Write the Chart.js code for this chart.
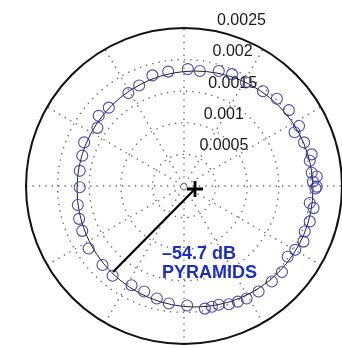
<!DOCTYPE html>
<html>
<head>
<meta charset="utf-8">
<script src="https://cdn.jsdelivr.net/npm/chart.js@4"></script>
<style>
    body { margin: 0; background: #fff; }
    #wrap { width: 342px; height: 348px; position: relative; }
</style>
</head>
<body>
<div id="wrap"><canvas id="polarChart"></canvas></div>
<script>
// measured response, real and imaginary parts
const RE = [0.00210, 0.00204, 0.00210, 0.00202, 0.00199, 0.00202, 0.00190, 0.00175, 0.00182, 0.00166,
    0.00147, 0.00125, 0.00098, 0.00076, 0.00055, 0.00025, 0.00006, -0.00025, -0.00050, -0.00071,
    -0.00088, -0.00119, -0.00135, -0.00137, -0.00158, -0.00161, -0.00165, -0.00165, -0.00168, -0.00166,
    -0.00161, -0.00151, -0.00129, -0.00113, -0.00083, -0.00063, -0.00043, -0.00024, 0.00005, 0.00033,
    0.00044, 0.00055, 0.00071, 0.00085, 0.00099, 0.00118, 0.00139, 0.00155, 0.00164, 0.00176,
    0.00189, 0.00191, 0.00199, 0.00205, 0.00199, 0.00208];
const IM = [-0.00001, 0.00007, 0.00015, 0.00021, 0.00040, 0.00050, 0.00069, 0.00085, 0.00095, 0.00120,
    0.00138, 0.00150, 0.00164, 0.00177, 0.00182, 0.00182, 0.00185, 0.00181, 0.00175, 0.00159,
    0.00147, 0.00124, 0.00111, 0.00092, 0.00069, 0.00048, 0.00024, -0.00002, -0.00030, -0.00052,
    -0.00071, -0.00099, -0.00125, -0.00142, -0.00157, -0.00167, -0.00178, -0.00186, -0.00189, -0.00194,
    -0.00191, -0.00188, -0.00187, -0.00183, -0.00178, -0.00167, -0.00151, -0.00136, -0.00112, -0.00101,
    -0.00088, -0.00072, -0.00056, -0.00035, -0.00027, -0.00004];

// fitted circle and radius arrow
const FIT_CENTER = [0.000174, -0.0000475];
const FIT_RADIUS = 0.001867;
const ARROW_END = [-0.001123, -0.001361];

// polar grid
const RING_TICKS = [0.0005, 0.001, 0.0015, 0.002, 0.0025];
const RING_LABELS = ['0.0005', '0.001', '0.0015', '0.002', '0.0025'];
const SPOKE_ANGLES = [0, 30, 60, 90, 120, 150];
const RMAX = 0.0025;

const LABEL_LINES = ['\u201354.7 dB', 'PYRAMIDS'];
const LABEL_POS = [-0.000348, -0.001155];

const BLUE = 'rgba(45, 45, 165, 0.85)';
const TEXT_BLUE = '#1c2ec4';

document.addEventListener('DOMContentLoaded', () => {
    renderChart();
});

const polarGrid = {
    id: 'polarGrid',
    beforeDatasetsDraw(chart) {
        const { ctx, scales: { x, y } } = chart;
        const ox = x.getPixelForValue(0);
        const oy = y.getPixelForValue(0);
        const pxPerUnit = x.getPixelForValue(1e-3) - ox;
        const r = v => v * pxPerUnit * 1000;

        ctx.save();
        // dotted rings + spokes
        ctx.strokeStyle = '#6f6f6f';
        ctx.lineWidth = 1.4;
        ctx.setLineDash([1.4, 5]);
        RING_TICKS.slice(0, -1).forEach(t => {
            ctx.beginPath();
            ctx.arc(ox, oy, r(t), 0, Math.PI * 2);
            ctx.stroke();
        });
        SPOKE_ANGLES.forEach(a => {
            const c = Math.cos(a * Math.PI / 180), s = Math.sin(a * Math.PI / 180);
            ctx.beginPath();
            ctx.moveTo(ox - r(RMAX) * c, oy + r(RMAX) * s);
            ctx.lineTo(ox + r(RMAX) * c, oy - r(RMAX) * s);
            ctx.stroke();
        });

        // outer circle
        ctx.setLineDash([]);
        ctx.strokeStyle = '#111';
        ctx.lineWidth = 2;
        ctx.beginPath();
        ctx.arc(ox, oy, r(RMAX), 0, Math.PI * 2);
        ctx.stroke();

        // fitted circle
        ctx.lineWidth = 1;
        ctx.strokeStyle = '#222';
        ctx.beginPath();
        ctx.arc(x.getPixelForValue(FIT_CENTER[0]), y.getPixelForValue(FIT_CENTER[1]), r(FIT_RADIUS), 0, Math.PI * 2);
        ctx.stroke();

        // ring labels (MATLAB style, 82 deg, two leading spaces)
        ctx.fillStyle = '#1a1a1a';
        ctx.font = '16px "Liberation Sans", Arial, sans-serif';
        ctx.textBaseline = 'alphabetic';
        ctx.textAlign = 'left';
        const c82 = Math.cos(82 * Math.PI / 180), s82 = Math.sin(82 * Math.PI / 180);
        RING_TICKS.forEach((t, i) => {
            ctx.fillText(RING_LABELS[i], ox + r(t) * c82 + 11, oy - r(t) * s82 - 4.5);
        });
        ctx.restore();
    },
    afterDatasetsDraw(chart) {
        const { ctx, scales: { x, y } } = chart;
        ctx.save();
        ctx.fillStyle = TEXT_BLUE;
        ctx.font = 'bold 18px "Liberation Sans", Arial, sans-serif';
        ctx.textBaseline = 'alphabetic';
        const lx = x.getPixelForValue(LABEL_POS[0]);
        const ly = y.getPixelForValue(LABEL_POS[1]);
        LABEL_LINES.forEach((t, i) => ctx.fillText(t, lx, ly + i * 19));
        ctx.restore();
    }
};

function renderChart() {
    const points = RE.map((v, i) => ({ x: v, y: IM[i] }));
    const ctx = document.getElementById('polarChart').getContext('2d');
    new Chart(ctx, {
        type: 'scatter',
        data: {
            datasets: [
                {
                    data: points,
                    pointStyle: 'circle',
                    pointRadius: 5.5,
                    pointBorderWidth: 1.1,
                    borderColor: BLUE,
                    backgroundColor: 'rgba(0,0,0,0)'
                },
                {
                    data: [{ x: FIT_CENTER[0], y: FIT_CENTER[1] }, { x: ARROW_END[0], y: ARROW_END[1] }],
                    showLine: true,
                    borderColor: '#000',
                    borderWidth: 2.2,
                    pointRadius: 0
                },
                {
                    data: [{ x: FIT_CENTER[0], y: FIT_CENTER[1] }],
                    pointStyle: 'cross',
                    pointRadius: 8,
                    pointBorderWidth: 2.8,
                    borderColor: '#000'
                }
            ]
        },
        options: {
            responsive: true,
            maintainAspectRatio: false,
            animation: false,
            layout: { padding: 0, autoPadding: false },
            scales: {
                x: { type: 'linear', display: false, min: -0.0029114, max: 0.0025 },
                y: { type: 'linear', display: false, min: -0.0025633, max: 0.0029430 }
            },
            plugins: {
                legend: { display: false },
                tooltip: { enabled: false }
            }
        },
        plugins: [polarGrid]
    });
}
</script>
</body>
</html>
